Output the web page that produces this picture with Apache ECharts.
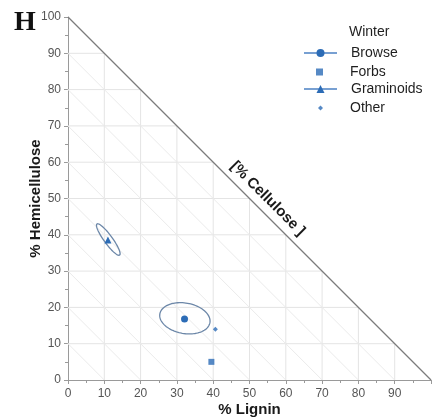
<!DOCTYPE html>
<html>
<head>
<meta charset="utf-8">
<script src="https://cdn.jsdelivr.net/npm/echarts@6/dist/echarts.min.js"></script>
<style>
  html, body { margin: 0; padding: 0; background: #ffffff; }
  #main { width: 435px; height: 419px; }
</style>
</head>
<body>
<div id="main"></div>
<script>
// Ternary fibre composition, winter diet groups
const gridTicks = [10, 20, 30, 40, 50, 60, 70, 80, 90];
const triangleEdge = [[0, 100], [100, 0]];

const browse = [[32.1, 16.8]];
const forbs = [[39.5, 5.0]];
const graminoids = [[11.0, 38.6]];
const other = [[40.6, 14.0]];

// confidence ellipses: [centre x, centre y, semi-major, semi-minor, angle in degrees]
const browseEllipse = [[32.2, 17.0, 7.0, 4.2, -10]];
const graminoidsEllipse = [[11.1, 38.7, 5.3, 1.15, -54]];

// anchor of the cellulose axis label on the hypotenuse
const celluloseAnchor = [[52.5, 47.5]];

const FONT = "'Liberation Sans', Arial, Helvetica, sans-serif";
const MARK = '#2c6cb6';
const LEGEND_LINE = '#78a0d2';
const ELLIPSE = '#6c87a8';

const chart = echarts.init(document.getElementById('main'), null, { renderer: 'canvas' });

function renderGrid(params, api) {
  const t = api.value(0);
  const hv = { stroke: '#e4e4e4', lineWidth: 1 };
  const dg = { stroke: '#ebebeb', lineWidth: 1 };
  const seg = (a, b, style) => {
    const p = api.coord(a), q = api.coord(b);
    return { type: 'line', shape: { x1: p[0], y1: p[1], x2: q[0], y2: q[1] }, style: style };
  };
  return {
    type: 'group',
    children: [
      seg([t, 0], [t, 100 - t], hv),
      seg([0, t], [100 - t, t], hv),
      seg([0, t], [t, 0], dg)
    ]
  };
}

function renderEllipse(params, api) {
  const cx = api.value(0), cy = api.value(1);
  const a = api.value(2), b = api.value(3);
  const ang = api.value(4) * Math.PI / 180;
  const pts = [];
  for (let i = 0; i < 96; i++) {
    const th = i / 96 * Math.PI * 2;
    const ex = a * Math.cos(th), ey = b * Math.sin(th);
    pts.push(api.coord([
      cx + ex * Math.cos(ang) - ey * Math.sin(ang),
      cy + ex * Math.sin(ang) + ey * Math.cos(ang)
    ]));
  }
  return {
    type: 'polygon',
    shape: { points: pts },
    style: { fill: 'none', stroke: ELLIPSE, lineWidth: 1.3 }
  };
}

function renderCelluloseLabel(params, api) {
  const p = api.coord([api.value(0), api.value(1)]);
  return {
    type: 'text',
    x: p[0] + 9,
    y: p[1] - 9,
    rotation: -Math.PI / 4,
    style: {
      text: '[% Cellulose ]',
      fill: '#1a1a1a',
      font: 'bold 15px ' + FONT,
      align: 'center',
      verticalAlign: 'middle'
    }
  };
}

// one legend block per entry so each icon keeps its own size
function legendFor(name, centerY, left, w, h, textPad) {
  return {
    data: [name],
    orient: 'vertical',
    left: left,
    top: centerY - 6,
    padding: 0,
    itemWidth: w,
    itemHeight: h,
    selectedMode: false,
    textStyle: { fontFamily: FONT, fontSize: 14, color: '#1f1f1f', padding: [0, 0, 0, textPad] }
  };
}

const option = {
  animation: false,
  backgroundColor: '#ffffff',
  title: [
    {
      text: 'H', left: 9, top: 4,
      textStyle: { fontFamily: "'Liberation Serif', 'Times New Roman', serif", fontWeight: 'bold', fontSize: 28, color: '#111' }
    },
    {
      text: 'Winter', left: 344, top: 20,
      textStyle: { fontFamily: FONT, fontWeight: 'normal', fontSize: 14, color: '#1f1f1f' }
    }
  ],
  legend: [
    legendFor('Browse', 52, 303, 33, 10, 9),
    legendFor('Forbs', 71, 316, 7, 7, 22),
    legendFor('Graminoids', 88, 303, 33, 10, 9),
    legendFor('Other', 107, 318, 5, 5, 22)
  ],
  grid: { left: 68, right: 4, top: 17, bottom: 39, containLabel: false, outerBoundsMode: 'none' },
  xAxis: {
    type: 'value', min: 0, max: 100, interval: 10,
    name: '% Lignin', nameLocation: 'middle', nameGap: 22, nameMoveOverlap: false,
    nameTextStyle: { fontFamily: FONT, fontWeight: 'bold', fontSize: 15, color: '#1a1a1a' },
    axisLine: { show: true, lineStyle: { color: '#9a9a9a', width: 1 } },
    axisTick: { show: true, length: 4, lineStyle: { color: '#9a9a9a' } },
    minorTick: { show: true, splitNumber: 2, length: 3, lineStyle: { color: '#9a9a9a' } },
    axisLabel: { fontFamily: FONT, fontSize: 12, color: '#555', margin: 8, showMaxLabel: false },
    splitLine: { show: false }
  },
  yAxis: {
    type: 'value', min: 0, max: 100, interval: 10,
    name: '% Hemicellulose', nameLocation: 'middle', nameGap: 25, nameMoveOverlap: false,
    nameTextStyle: { fontFamily: FONT, fontWeight: 'bold', fontSize: 15, color: '#1a1a1a' },
    axisLine: { show: true, lineStyle: { color: '#9a9a9a', width: 1 } },
    axisTick: { show: true, length: 4, lineStyle: { color: '#9a9a9a' } },
    minorTick: { show: true, splitNumber: 2, length: 3, lineStyle: { color: '#9a9a9a' } },
    axisLabel: { fontFamily: FONT, fontSize: 12, color: '#555', margin: 7 },
    splitLine: { show: false }
  },
  series: [
    {
      name: 'grid', type: 'custom', silent: true, z: 1, clip: false,
      renderItem: renderGrid, data: gridTicks.map(t => [t, 0])
    },
    {
      name: 'edge', type: 'line', silent: true, z: 2, symbol: 'none',
      lineStyle: { color: '#7c7c7c', width: 1.2 }, data: triangleEdge
    },
    {
      name: 'browseEllipse', type: 'custom', silent: true, z: 3, clip: false,
      renderItem: renderEllipse, encode: { x: 0, y: 1 }, data: browseEllipse
    },
    {
      name: 'graminoidsEllipse', type: 'custom', silent: true, z: 3, clip: false,
      renderItem: renderEllipse, encode: { x: 0, y: 1 }, data: graminoidsEllipse
    },
    {
      name: 'celluloseLabel', type: 'custom', silent: true, z: 3, clip: false,
      renderItem: renderCelluloseLabel, data: celluloseAnchor
    },
    {
      name: 'Browse', type: 'line', z: 5, symbol: 'circle', symbolSize: 7,
      itemStyle: { color: MARK }, lineStyle: { color: LEGEND_LINE, width: 1 },
      data: browse
    },
    {
      name: 'Forbs', type: 'scatter', z: 5, symbol: 'rect', symbolSize: 6,
      itemStyle: { color: MARK }, data: forbs
    },
    {
      name: 'Graminoids', type: 'line', z: 5, symbol: 'triangle', symbolSize: 7,
      itemStyle: { color: MARK }, lineStyle: { color: LEGEND_LINE, width: 1 },
      data: graminoids
    },
    {
      name: 'Other', type: 'scatter', z: 5, symbol: 'diamond', symbolSize: 5,
      itemStyle: { color: MARK }, data: other
    }
  ]
};

chart.setOption(option);
</script>
</body>
</html>
